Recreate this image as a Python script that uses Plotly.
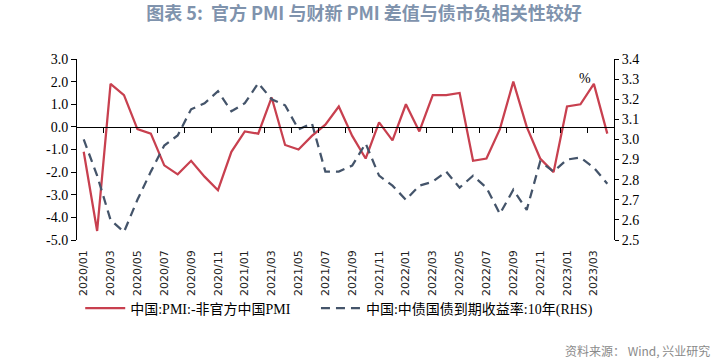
import plotly.graph_objects as go

months = [f"{y}/{m:02d}" for y in (2020, 2021, 2022, 2023) for m in range(1, 13)][:40]

pmi_diff = [-1.1, -4.6, 1.9, 1.4, -0.1, -0.3, -1.7, -2.1, -1.5, -2.2,
            -2.8, -1.1, -0.2, -0.3, 1.3, -0.8, -1.0, -0.4, 0.1, 0.9,
            -0.4, -1.4, 0.2, -0.6, 1.0, -0.2, 1.4, 1.4, 1.5, -1.5,
            -1.4, -0.1, 2.0, 0.0, -1.4, -2.0, 0.9, 1.0, 1.9, -0.3]

yield_10y = [3.00, 2.82, 2.60, 2.54, 2.70, 2.84, 2.97, 3.02, 3.15, 3.18,
             3.24, 3.14, 3.18, 3.28, 3.20, 3.17, 3.05, 3.08, 2.84, 2.84,
             2.87, 2.98, 2.82, 2.77, 2.70, 2.77, 2.79, 2.84, 2.76, 2.82,
             2.76, 2.63, 2.75, 2.65, 2.89, 2.84, 2.90, 2.91, 2.86, 2.78]

left_ticks = [3.0, 2.0, 1.0, 0.0, -1.0, -2.0, -3.0, -4.0, -5.0]
left_labels = ["3.0", "2.0", "1.0", "0.0", "-1.0", "-2.0", "-3.0", "-4.0", "-5.0"]
right_ticks = [3.4, 3.3, 3.2, 3.1, 3.0, 2.9, 2.8, 2.7, 2.6, 2.5]
right_labels = ["3.4", "3.3", "3.2", "3.1", "3.0", "2.9", "2.8", "2.7", "2.6", "2.5"]

name_pmi = "中国:PMI:-非官方中国PMI"
name_yield = "中国:中债国债到期收益率:10年(RHS)"
title_text = "图表 5:  官方 PMI 与财新 PMI 差值与债市负相关性较好"
source_text = "资料来源： Wind, 兴业研究"

RED = "#c8404f"
BLUE = "#44546a"
SERIF = "Liberation Serif, Noto Sans CJK SC"

xs = list(range(len(months)))

fig = go.Figure()
fig.add_trace(go.Scatter(x=xs, y=pmi_diff, name=name_pmi, mode="lines",
                         line=dict(color=RED, width=2.25), xaxis="x", yaxis="y",
                         legend="legend"))
fig.add_trace(go.Scatter(x=xs, y=yield_10y, name=name_yield, mode="lines",
                         line=dict(color=BLUE, width=2.25, dash="9px,6px"),
                         xaxis="x", yaxis="y2", legend="legend2"))
# carrier for the bottom label axis
fig.add_trace(go.Scatter(x=[None], y=[None], xaxis="x2", yaxis="y",
                         showlegend=False, hoverinfo="skip"))

xrange = [-0.5, len(months) - 0.5]
lo, hi = left_ticks[-1], left_ticks[0]
zero_pos = (0 - lo) / (hi - lo)

legend_common = dict(orientation="h", xanchor="left", yanchor="top", y=-0.29,
                     font=dict(family=SERIF, size=14, color="black"),
                     itemwidth=40, bgcolor="rgba(0,0,0,0)")

fig.update_layout(
    width=718, height=361,
    margin=dict(l=77, r=104, t=59, b=121, autoexpand=False),
    plot_bgcolor="white", paper_bgcolor="white",
    title=dict(text=title_text, x=0.507, xref="container", xanchor="center",
               y=0.962, yref="container", yanchor="middle",
               font=dict(family="Noto Sans CJK SC", size=18, color="#7f93ad", weight="bold")),
    xaxis=dict(type="linear", range=xrange, anchor="free", position=zero_pos,
               showline=True, linecolor="black", linewidth=1,
               ticks="outside", ticklen=5, tickcolor="black",
               tickvals=[i + 0.5 for i in range(1, len(months) - 1, 2)],
               showticklabels=False, showgrid=False, zeroline=False),
    xaxis2=dict(type="linear", range=xrange, overlaying="x", anchor="y", side="bottom",
                showline=False, ticks="", showgrid=False, zeroline=False,
                tickvals=xs[::2], ticktext=months[::2], tickangle=-90,
                ticklabelstandoff=7,
                tickfont=dict(family="DejaVu Sans", size=11, color="#222222")),
    yaxis=dict(range=[lo, hi], tickvals=left_ticks, ticktext=left_labels,
               showline=True, linecolor="black", linewidth=1,
               ticks="outside", ticklen=5, tickcolor="black",
               showgrid=False, zeroline=False,
               tickfont=dict(family=SERIF, size=14, color="black")),
    yaxis2=dict(range=[right_ticks[-1], right_ticks[0]], tickvals=right_ticks,
                ticktext=right_labels, overlaying="y", side="right", anchor="x",
                showline=True, linecolor="black", linewidth=1,
                ticks="outside", ticklen=4, tickcolor="black",
                showgrid=False, zeroline=False,
                tickfont=dict(family=SERIF, size=14, color="black")),
    legend=dict(x=0.006, **legend_common),
    legend2=dict(x=0.445, **legend_common),
    showlegend=True,
    annotations=[
        dict(text="%", x=0.961, y=0.945, xref="paper", yref="paper",
             showarrow=False, font=dict(family=SERIF, size=14, color="black")),
        dict(text=source_text, x=1.1825, y=-0.608, xref="paper", yref="paper",
             xanchor="right", yanchor="middle", showarrow=False,
             font=dict(family="Noto Sans CJK SC", size=12, color="#8a8a8a")),
    ],
)

fig.write_html("out.html", config={"displayModeBar": False},
               post_script="document.body.style.margin='0';document.body.style.padding='0';")
